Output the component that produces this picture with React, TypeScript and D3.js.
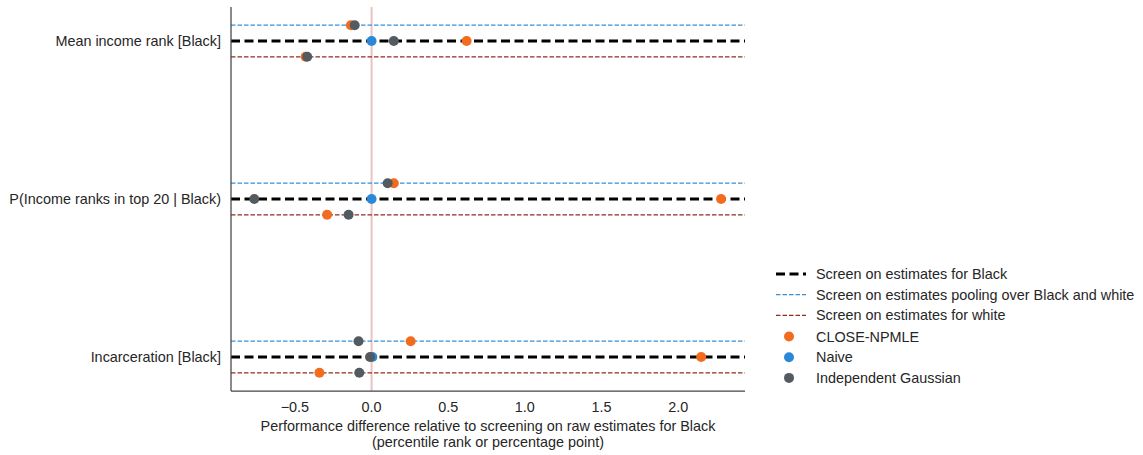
import React from "react";
import * as d3 from "d3";

const categories = ["Mean income rank [Black]", "P(Income ranks in top 20 | Black)", "Incarceration [Black]"];
const strategies = ["black", "pooled", "white"];
const strategyLabels = ["Screen on estimates for Black", "Screen on estimates pooling over Black and white", "Screen on estimates for white"];
const methods = ["CLOSE-NPMLE", "Naive", "Independent Gaussian"];
// values[category][strategy] for each method (NaN = not shown)
const closeNpml = [
  [0.62, -0.135, -0.43],
  [2.28, 0.145, -0.29],
  [2.15, 0.255, -0.34],
];
const naive = [
  [0.0, NaN, NaN],
  [0.0, NaN, NaN],
  [0.005, NaN, NaN],
];
const indepGauss = [
  [0.145, -0.11, -0.42],
  [-0.765, 0.105, -0.15],
  [-0.01, -0.085, -0.08],
];
const xTicks = [-0.5, 0, 0.5, 1.0, 1.5, 2.0];

const W = 1143, H = 455;
const left = 231, right = 745, top = 7, bottom = 391;
const FONT = "'Liberation Sans', Arial, sans-serif";
const FS = 14.4;

const lineStyles = [
  { color: "#000000", width: 2.8, dash: "9,4.5" },
  { color: "#3790d8", width: 1.3, dash: "4.5,2" },
  { color: "#922c20", width: 1.3, dash: "4.5,2" },
];
const offsets = [0, -0.1, 0.1];
const methodColors = ["#f26c1f", "#2b88d8", "#535b61"];

export default function App() {
  const x = d3.scaleLinear().domain([-0.917, 2.436]).range([left, right]);
  const y = d3.scaleLinear().domain([-0.215, 2.215]).range([top, bottom]);
  const allVals = [closeNpml, naive, indepGauss];

  return (
    <svg width={W} height={H} style={{ position: "absolute", left: 0, top: 0 }} fontFamily={FONT}>
      <rect width={W} height={H} fill="#fff" />
      {/* zero line */}
      <line x1={x(0)} x2={x(0)} y1={top} y2={bottom} stroke="#e3aaaa" strokeOpacity={0.7} strokeWidth={2} />
      {/* strategy lines */}
      {categories.map((c, ci) =>
        [1, 2, 0].map((si) => (
          <line key={`${ci}-${si}`} x1={left} x2={right} y1={y(ci + offsets[si])} y2={y(ci + offsets[si])}
            stroke={lineStyles[si].color} strokeWidth={lineStyles[si].width} strokeDasharray={lineStyles[si].dash} />
        ))
      )}
      {/* points */}
      {allVals.map((vals, mi) =>
        vals.map((row, ci) =>
          row.map((v, si) =>
            isNaN(v) ? null : (
              <circle key={`${mi}-${ci}-${si}`} cx={x(v)} cy={y(ci + offsets[si])} r={5} fill={methodColors[mi]} />
            )
          )
        )
      )}
      {/* spines */}
      <line x1={left} x2={left} y1={top} y2={bottom} stroke="#444" strokeWidth={1.25} />
      <line x1={left} x2={right} y1={bottom} y2={bottom} stroke="#444" strokeWidth={1.25} />
      {/* y tick labels */}
      {categories.map((c, ci) => (
        <text key={c} x={left - 10} y={y(ci)} dy="0.35em" textAnchor="end" fontSize={FS} fill="#262626">{c}</text>
      ))}
      {/* x tick labels */}
      {xTicks.map((t) => (
        <text key={t} x={x(t)} y={bottom + 21} textAnchor="middle" fontSize={FS} fill="#262626">
          {t < 0 ? "\u2212" + Math.abs(t).toFixed(1) : t.toFixed(1)}
        </text>
      ))}
      <text x={(left + right) / 2} y={431} textAnchor="middle" fontSize={FS} fill="#262626">
        Performance difference relative to screening on raw estimates for Black
      </text>
      <text x={(left + right) / 2} y={447} textAnchor="middle" fontSize={FS} fill="#262626">
        (percentile rank or percentage point)
      </text>
      {/* legend */}
      {strategyLabels.map((s, i) => (
        <g key={s}>
          <line x1={776} x2={806} y1={274 + i * 20.7} y2={274 + i * 20.7} stroke={lineStyles[i].color}
            strokeWidth={lineStyles[i].width} strokeDasharray={lineStyles[i].dash} />
          <text x={816} y={274 + i * 20.7} dy="0.35em" fontSize={FS} fill="#262626">{s}</text>
        </g>
      ))}
      {methods.map((m, i) => (
        <g key={m}>
          <circle cx={789} cy={336.5 + i * 20.7} r={5} fill={methodColors[i]} />
          <text x={816} y={336.5 + i * 20.7} dy="0.35em" fontSize={FS} fill="#262626">{m}</text>
        </g>
      ))}
    </svg>
  );
}
